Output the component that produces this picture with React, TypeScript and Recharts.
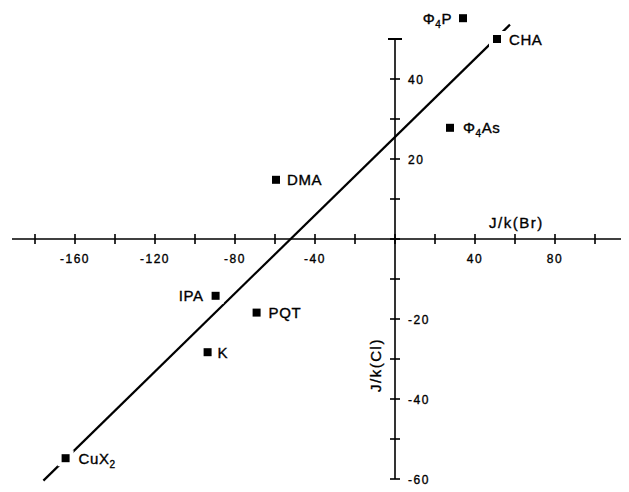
import React from 'react';
import { ScatterChart, Scatter, XAxis, YAxis, ReferenceLine } from 'recharts';

// Data
const compounds = ['Φ4P', 'CHA', 'Φ4As', 'DMA', 'IPA', 'PQT', 'K', 'CuX2'];
const jkBr = [34, 51, 27.5, -59.5, -89.7, -69.2, -93.7, -164.7];
const jkCl = [55.2, 50, 27.8, 14.8, -14.2, -18.4, -28.3, -54.8];
const fitLineX = [-175.8, 57.5];
const fitLineY = [-60.4, 53.6];
const xTickValues = [-180, -160, -140, -120, -100, -80, -60, -40, -20, 0, 20, 40, 60, 80, 100];
const xTickLabels = [-160, -120, -80, -40, 40, 80];
const yTickValues = [-60, -50, -40, -30, -20, -10, 0, 10, 20, 30, 40];
const yTickLabels = [-60, -40, -20, 20, 40];
const yAxisTop = 50;
const xAxisRange = [-191.5, 117];
const yAxisRange = [-60, 50.2];

const points = compounds.map((name, i) => ({ name, x: jkBr[i], y: jkCl[i] }));
const fitLine = fitLineX.map((x, i) => ({ x, y: fitLineY[i] }));
const xTickData = xTickValues.map((x) => ({ x, y: 0 }));
const xLabelData = xTickLabels.map((x) => ({ x, y: 0, label: String(x) }));
const yTickData = yTickValues.map((y) => ({ x: 0, y }));
const yLabelData = yTickLabels.map((y) => ({ x: 0, y, label: String(y) }));
const yCapData = [{ x: 0, y: yAxisTop }];

// Label styling (offsets in px relative to marker)
const labelStyle: Record<string, { dx: number; anchor: 'start' | 'end'; parts: string[] }> = {
  'Φ4P': { dx: -11, anchor: 'end', parts: ['Φ', '4', 'P'] },
  CHA: { dx: 12, anchor: 'start', parts: ['CHA'] },
  'Φ4As': { dx: 13, anchor: 'start', parts: ['Φ', '4', 'As'] },
  DMA: { dx: 11, anchor: 'start', parts: ['DMA'] },
  IPA: { dx: -12, anchor: 'end', parts: ['IPA'] },
  PQT: { dx: 12, anchor: 'start', parts: ['PQT'] },
  K: { dx: 10, anchor: 'start', parts: ['K'] },
  CuX2: { dx: 13, anchor: 'start', parts: ['CuX', '2', ''] },
};

const FONT = '"Liberation Sans", Arial, Helvetica, sans-serif';
const TEXT_STROKE = { stroke: '#000', strokeWidth: 0.35 };

const PointShape = (props: any) => {
  const { cx, cy, payload } = props;
  const st = labelStyle[payload.name];
  const baseY = cy + 5.5;
  return (
    <g>
      <rect x={cx - 8} y={cy - 8} width={16} height={16} fill="#fff" />
      <rect x={cx - 4} y={cy - 4} width={8} height={8} fill="#000" />
      <text
        x={cx + st.dx}
        y={baseY}
        textAnchor={st.anchor}
        fontFamily={FONT}
        fontSize={15}
        fill="#000"
        letterSpacing={0.6}
        {...TEXT_STROKE}
      >
        {st.parts.length === 1 ? (
          st.parts[0]
        ) : (
          <>
            <tspan>{st.parts[0]}</tspan>
            <tspan dy={4} fontSize={10}>{st.parts[1]}</tspan>
            <tspan dy={-4}>{st.parts[2]}</tspan>
          </>
        )}
      </text>
    </g>
  );
};

const XTickShape = (props: any) => {
  const { cx, cy } = props;
  return <line x1={cx} x2={cx} y1={cy - 5} y2={cy + 5} stroke="#000" strokeWidth={1.6} />;
};
const YTickShape = (props: any) => {
  const { cx, cy } = props;
  return <line x1={cx - 5} x2={cx + 5} y1={cy} y2={cy} stroke="#000" strokeWidth={1.6} />;
};
const YCapShape = (props: any) => {
  const { cx, cy } = props;
  return <line x1={cx - 7} x2={cx + 7} y1={cy} y2={cy} stroke="#000" strokeWidth={2} />;
};
const XLabelShape = (props: any) => {
  const { cx, cy, payload } = props;
  return (
    <text x={cx} y={cy + 24} textAnchor="middle" fontFamily={FONT} fontSize={12} letterSpacing={1.5} fill="#000" {...TEXT_STROKE}>
      {payload.label}
    </text>
  );
};
const YLabelShape = (props: any) => {
  const { cx, cy, payload } = props;
  return (
    <text x={cx + 13} y={cy + 4.5} textAnchor="start" fontFamily={FONT} fontSize={12} letterSpacing={1.5} fill="#000" {...TEXT_STROKE}>
      {payload.label}
    </text>
  );
};
const EmptyShape = () => <g />;

export default function App() {
  return (
    <div style={{ width: 621, height: 484, background: '#fff', position: 'relative' }}>
      <ScatterChart width={621} height={484} margin={{ top: 0, right: 0, bottom: 0, left: 0 }}>
        <XAxis type="number" dataKey="x" hide domain={[-193.5, 117]} allowDataOverflow />
        <YAxis type="number" dataKey="y" hide domain={[-63.25, 57.75]} allowDataOverflow />
        <ReferenceLine
          segment={[{ x: xAxisRange[0], y: 0 }, { x: xAxisRange[1], y: 0 }]}
          stroke="#000"
          strokeWidth={1.6}
          ifOverflow="extendDomain"
        />
        <ReferenceLine
          segment={[{ x: 0, y: yAxisRange[0] }, { x: 0, y: yAxisRange[1] }]}
          stroke="#000"
          strokeWidth={1.6}
          ifOverflow="extendDomain"
        />
        <Scatter data={xTickData} shape={XTickShape} isAnimationActive={false} />
        <Scatter data={yTickData} shape={YTickShape} isAnimationActive={false} />
        <Scatter data={yCapData} shape={YCapShape} isAnimationActive={false} />
        <Scatter data={xLabelData} shape={XLabelShape} isAnimationActive={false} />
        <Scatter data={yLabelData} shape={YLabelShape} isAnimationActive={false} />
        <Scatter
          data={fitLine}
          shape={EmptyShape}
          line={{ stroke: '#000', strokeWidth: 2.2 }}
          isAnimationActive={false}
        />
        <Scatter data={points} shape={PointShape} isAnimationActive={false} />
      </ScatterChart>
      <div
        style={{
          position: 'absolute',
          left: 481,
          top: 206,
          fontFamily: FONT,
          fontSize: 15,
          letterSpacing: 1.5,
          color: '#000',
          whiteSpace: 'nowrap',
          WebkitTextStroke: '0.35px #000',
        }}
      >
        J/k(Br)
      </div>
      <div
        style={{
          position: 'absolute',
          left: 367,
          top: 357,
          fontFamily: FONT,
          fontSize: 15,
          letterSpacing: 1.5,
          color: '#000',
          whiteSpace: 'nowrap',
          transform: 'translate(-50%, -50%) rotate(-90deg)',
          WebkitTextStroke: '0.35px #000',
        }}
      >
        J/k(Cl)
      </div>
    </div>
  );
}
